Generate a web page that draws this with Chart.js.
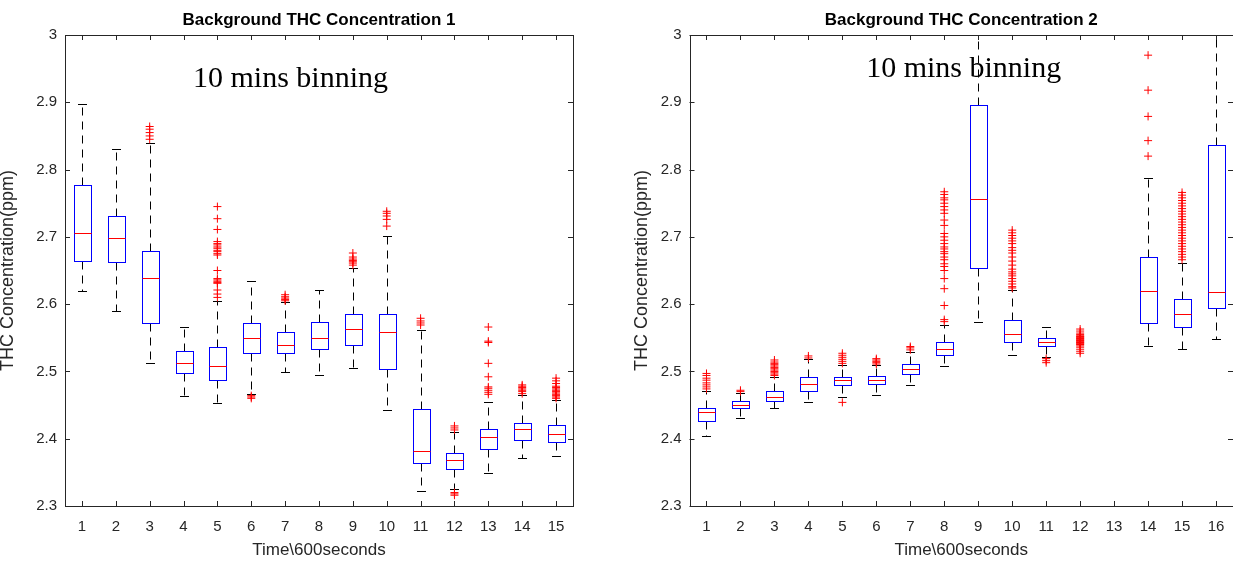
<!DOCTYPE html>
<html>
<head>
<meta charset="utf-8">
<script src="https://cdn.jsdelivr.net/npm/chart.js@4.4.1/dist/chart.umd.min.js"></script>
<style>
  html, body { margin: 0; padding: 0; background: #fff; overflow: hidden; }
  #wrap { position: relative; width: 1233px; height: 563px; overflow: hidden; }
  .panel { position: absolute; top: 0; }
</style>
</head>
<body>
<div id="wrap">
  <div class="panel" style="left:0px"><canvas id="c1" width="616" height="563"></canvas></div>
  <div class="panel" style="left:616px"><canvas id="c2" width="640" height="563"></canvas></div>
</div>
<script>
// box plot data (THC ppm), one entry per 10-minute bin

const yTicks = [2.3, 2.4, 2.5, 2.6, 2.7, 2.8, 2.9, 3.0];

// panel 1
const bins1 = [1, 2, 3, 4, 5, 6, 7, 8, 9, 10, 11, 12, 13, 14, 15];
const low1  = [2.619, 2.590, 2.513, 2.464, 2.453, 2.466, 2.499, 2.495, 2.505, 2.442, 2.322, 2.325, 2.349, 2.372, 2.374];
const q1_1  = [2.664, 2.663, 2.572, 2.497, 2.488, 2.528, 2.527, 2.533, 2.540, 2.503, 2.364, 2.355, 2.384, 2.398, 2.395];
const med1  = [2.705, 2.698, 2.639, 2.513, 2.508, 2.549, 2.540, 2.550, 2.563, 2.558, 2.382, 2.368, 2.402, 2.414, 2.407];
const q3_1  = [2.777, 2.731, 2.679, 2.530, 2.537, 2.572, 2.558, 2.574, 2.586, 2.586, 2.444, 2.379, 2.414, 2.424, 2.421];
const high1 = [2.897, 2.831, 2.840, 2.566, 2.604, 2.634, 2.603, 2.621, 2.653, 2.701, 2.562, 2.410, 2.454, 2.465, 2.457];
const out1 = [
  [],
  [],
  [2.845, 2.850, 2.855, 2.860, 2.864],
  [],
  [2.745, 2.727, 2.711, 2.693, 2.690, 2.688, 2.685, 2.683, 2.680, 2.678, 2.675, 2.673, 2.650, 2.638, 2.636, 2.634, 2.632, 2.631, 2.621, 2.615, 2.610],
  [2.460, 2.462, 2.464],
  [2.605, 2.607, 2.609, 2.611, 2.614],
  [],
  [2.658, 2.661, 2.663, 2.665, 2.667, 2.670, 2.676],
  [2.716, 2.726, 2.731, 2.735, 2.738],
  [2.569, 2.572, 2.575, 2.579],
  [2.413, 2.416, 2.419, 2.316, 2.318, 2.320],
  [2.466, 2.469, 2.472, 2.475, 2.477, 2.492, 2.512, 2.543, 2.545, 2.566],
  [2.467, 2.470, 2.472, 2.474, 2.476, 2.478, 2.480],
  [2.460, 2.462, 2.464, 2.466, 2.468, 2.470, 2.472, 2.474, 2.476, 2.478, 2.482, 2.486, 2.490]
];

// panel 2 (bin 13 has no data, bin 12 shows only its outlier cluster)
const bins2 = [1, 2, 3, 4, 5, 6, 7, 8, 9, 10, 11, 12, 13, 14, 15, 16];
const low2  = [2.404, 2.431, 2.445, 2.455, 2.462, 2.465, 2.480, 2.508, 2.574, 2.525, 2.522, null, null, 2.538, 2.533, 2.548];
const q1_2  = [2.426, 2.445, 2.456, 2.471, 2.480, 2.481, 2.496, 2.525, 2.653, 2.544, 2.538, null, null, 2.572, 2.566, 2.594];
const med2  = [2.439, 2.450, 2.462, 2.482, 2.487, 2.487, 2.503, 2.533, 2.756, 2.555, 2.543, null, null, 2.619, 2.586, 2.618];
const q3_2  = [2.445, 2.456, 2.471, 2.491, 2.492, 2.493, 2.511, 2.543, 2.896, 2.576, 2.550, null, null, 2.670, 2.607, 2.836];
const high2 = [2.471, 2.468, 2.492, 2.518, 2.510, 2.510, 2.529, 2.569, 3.050, 2.621, 2.566, null, null, 2.788, 2.661, 3.050];
const out2 = [
  [2.474, 2.477, 2.480, 2.483, 2.487, 2.490, 2.494, 2.497],
  [2.470, 2.472],
  [2.494, 2.496, 2.498, 2.500, 2.502, 2.504, 2.506, 2.508, 2.510, 2.512, 2.514, 2.517],
  [2.520, 2.523],
  [2.512, 2.515, 2.518, 2.521, 2.524, 2.527, 2.454],
  [2.511, 2.513, 2.515, 2.517, 2.519],
  [2.532, 2.535, 2.537],
  [2.767, 2.763, 2.758, 2.755, 2.750, 2.745, 2.740, 2.735, 2.725, 2.717, 2.705, 2.700, 2.695, 2.690, 2.685, 2.682,
   2.678, 2.675, 2.670, 2.666, 2.660, 2.656, 2.650, 2.638, 2.623, 2.598, 2.577, 2.574],
  [],
  [2.710, 2.706, 2.702, 2.698, 2.694, 2.690, 2.684, 2.680, 2.676, 2.670, 2.664, 2.658, 2.652, 2.648, 2.645, 2.642,
   2.638, 2.634, 2.630, 2.626, 2.624],
  [2.519, 2.516, 2.513],
  [2.527, 2.530, 2.533, 2.536, 2.538, 2.540, 2.541, 2.542, 2.543, 2.544, 2.545, 2.546, 2.547, 2.548, 2.549, 2.550,
   2.551, 2.552, 2.553, 2.555, 2.557, 2.560, 2.563],
  [],
  [2.820, 2.843, 2.879, 2.918, 2.970],
  [2.666, 2.670, 2.674, 2.678, 2.682, 2.686, 2.690, 2.694, 2.698, 2.702, 2.706, 2.710, 2.714, 2.718, 2.722, 2.726,
   2.730, 2.734, 2.738, 2.742, 2.746, 2.750, 2.754, 2.758, 2.762, 2.766],
  []
];

const axisColor = '#262626';
const sans = '"Liberation Sans", Arial, sans-serif';

// draws boxes, whiskers and medians from the scales
const boxPlugin = {
  id: 'boxes',
  beforeDatasetsDraw(chart, args, opts) {
    const { ctx, chartArea: a, scales: { x, y } } = chart;
    const unit = x.getPixelForValue(2) - x.getPixelForValue(1);
    const hw = unit * 0.26, cw = unit * 0.125;
    const px = v => Math.round(v) + 0.5;
    ctx.save();
    ctx.beginPath();
    ctx.rect(a.left, a.top, a.right - a.left, a.bottom - a.top);
    ctx.clip();
    ctx.lineWidth = 1;
    opts.bins.forEach((b, i) => {
      if (opts.q1[i] == null) return;
      const cx = px(x.getPixelForValue(b));
      const yLo = px(y.getPixelForValue(opts.low[i]));
      const yQ1 = px(y.getPixelForValue(opts.q1[i]));
      const yMed = px(y.getPixelForValue(opts.med[i]));
      const yQ3 = px(y.getPixelForValue(opts.q3[i]));
      const yHi = px(y.getPixelForValue(opts.high[i]));
      // whiskers
      ctx.strokeStyle = '#000';
      ctx.setLineDash([8, 6]);
      ctx.beginPath();
      ctx.moveTo(cx, yQ3); ctx.lineTo(cx, yHi);
      ctx.moveTo(cx, yQ1); ctx.lineTo(cx, yLo);
      ctx.stroke();
      ctx.setLineDash([]);
      ctx.beginPath();
      ctx.moveTo(Math.round(cx - cw), yHi); ctx.lineTo(Math.round(cx + cw), yHi);
      ctx.moveTo(Math.round(cx - cw), yLo); ctx.lineTo(Math.round(cx + cw), yLo);
      ctx.stroke();
      // box
      const l = px(cx - hw), r = px(cx + hw);
      ctx.fillStyle = '#fff';
      ctx.fillRect(l, yQ3, r - l, yQ1 - yQ3);
      ctx.strokeStyle = '#0000ff';
      ctx.strokeRect(l, yQ3, r - l, yQ1 - yQ3);
      // median
      ctx.strokeStyle = '#ff0000';
      ctx.beginPath();
      ctx.moveTo(l, yMed); ctx.lineTo(r, yMed);
      ctx.stroke();
    });
    ctx.restore();
  },
  afterDraw(chart, args, opts) {
    const { ctx, chartArea: a, scales: { x, y } } = chart;
    ctx.save();
    ctx.strokeStyle = axisColor;
    ctx.lineWidth = 1;
    ctx.strokeRect(Math.round(a.left) + 0.5, Math.round(a.top) + 0.5,
      Math.round(a.right - a.left), Math.round(a.bottom - a.top));
    ctx.beginPath();
    x.ticks.forEach(t => {
      const p = Math.round(x.getPixelForValue(t.value)) + 0.5;
      ctx.moveTo(p, a.bottom); ctx.lineTo(p, a.bottom - 5);
      ctx.moveTo(p, a.top); ctx.lineTo(p, a.top + 5);
    });
    y.ticks.forEach(t => {
      const p = Math.round(y.getPixelForValue(t.value)) + 0.5;
      ctx.moveTo(a.left, p); ctx.lineTo(a.left + 5, p);
      ctx.moveTo(a.right, p); ctx.lineTo(a.right - 5, p);
    });
    ctx.stroke();
    // "10 mins binning" note
    ctx.fillStyle = '#000';
    ctx.font = '30px "Liberation Serif", "Times New Roman", serif';
    ctx.textAlign = 'left';
    ctx.textBaseline = 'alphabetic';
    ctx.fillText(opts.note, x.getPixelForValue(opts.noteAt[0]), y.getPixelForValue(opts.noteAt[1]));
    ctx.restore();
  }
};

function makePanel(id, title, bins, low, q1, med, q3, high, outs, note, yAxisWidth, rightPad, yTitlePad) {
  const points = [];
  outs.forEach((list, i) => list.forEach(v => points.push({ x: bins[i], y: v })));
  const last = bins[bins.length - 1];
  return new Chart(document.getElementById(id), {
    type: 'scatter',
    data: {
      datasets: [{
        data: points,
        pointStyle: 'cross',
        radius: 4,
        borderWidth: 1,
        borderColor: '#ff0000',
        backgroundColor: '#ff0000'
      }]
    },
    options: {
      responsive: false,
      animation: false,
      layout: { padding: { left: 0, right: rightPad, top: 0, bottom: 0 } },
      plugins: {
        legend: { display: false },
        tooltip: { enabled: false },
        title: {
          display: true,
          text: title,
          fullSize: false,
          color: '#000',
          font: { family: sans, size: 17, weight: 'bold' },
          padding: { top: 9.8, bottom: 4.8 }
        },
        boxes: { bins, low, q1, med, q3, high, note: note.text, noteAt: note.at }
      },
      scales: {
        x: {
          type: 'linear',
          min: 0.5,
          max: last + 0.5,
          grid: { display: false, drawTicks: false },
          border: { display: false },
          afterBuildTicks: s => { s.ticks = bins.map(v => ({ value: v })); },
          afterFit: s => { s.height = 57; },
          ticks: { padding: 12, color: axisColor, font: { family: sans, size: 15 }, callback: v => String(v) },
          title: {
            display: true,
            text: 'Time\\600seconds',
            color: axisColor,
            font: { family: sans, size: 17 },
            padding: { top: 0, bottom: 2 }
          }
        },
        y: {
          min: 2.3,
          max: 3.0,
          grid: { display: false, drawTicks: false },
          border: { display: false },
          afterBuildTicks: s => { s.ticks = yTicks.map(v => ({ value: v })); },
          afterFit: s => { s.width = yAxisWidth; },
          ticks: { padding: 8, color: axisColor, font: { family: sans, size: 15 }, callback: v => String(+v.toFixed(1)) },
          title: {
            display: true,
            text: 'THC Concentration(ppm)',
            color: axisColor,
            font: { family: sans, size: 18 },
            padding: { top: yTitlePad, bottom: 0 }
          }
        }
      }
    },
    plugins: [boxPlugin]
  });
}

makePanel('c1', 'Background THC Concentration 1', bins1, low1, q1_1, med1, q3_1, high1, out1,
  { text: '10 mins binning', at: [4.28, 2.923] }, 65, 43, -2.5);
makePanel('c2', 'Background THC Concentration 2', bins2, low2, q1_2, med2, q3_2, high2, out2,
  { text: '10 mins binning', at: [5.70, 2.937] }, 73.5, 23, 15.4);
</script>
</body>
</html>
